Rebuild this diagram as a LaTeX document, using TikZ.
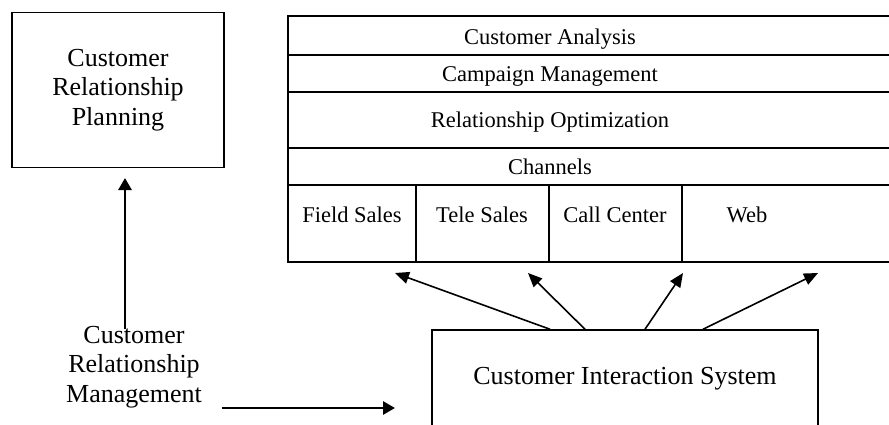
\documentclass[tikz,border=0pt]{standalone}
\usepackage{fontspec}
\setmainfont{Liberation Serif}
\usetikzlibrary{arrows.meta, calc}

\begin{document}
\begin{tikzpicture}[x=0.5pt,y=-0.5pt,
	big/.style={font=\fontsize{13}{14.75}\selectfont, align=center},
	small/.style={font=\fontsize{11.25}{13}\selectfont, anchor=base},
	rule/.style={line width=1.2pt},
	arr/.style={-{Triangle[length=6pt,width=6.5pt]}, line width=1.4pt},
	thin arr/.style={-{Triangle[length=7pt,width=6pt]}, line width=0.8pt}]
				\useasboundingbox (0,0) rectangle (889,424);
				\clip (0,0) rectangle (889,424);

				\node[big, draw, line width=0.8pt, minimum width=106pt, minimum height=77.5pt] (plan) at (118,90) {Customer\\Relationship\\Planning};
				\node[big] (crm) at (134,367) {Customer\\Relationship\\Management};

				\draw[rule] (288,16) rectangle (900,262);
				\foreach \y in {55,92,148,185}
				\draw[rule] (288,\y) -- (900,\y);
				\foreach \x in {416,549,682}
				\draw[rule] (\x,185) -- (\x,262);

				\node[small] (ana) at (550,44) {Customer Analysis};
				\node[small] (camp) at (550,81) {Campaign Management};
				\node[small] (opt) at (550,127) {Relationship Optimization};
				\node[small] (chan) at (550,174) {Channels};
				\foreach \x/\n/\t in {352/field/Field Sales, 482/tele/Tele Sales, 615/call/Call Center, 747/web/Web}
				\node[small] (\n) at (\x,222) {\t};

				\node[big, draw, line width=0.75pt, minimum width=193pt, minimum height=49pt] (cis) at (625,379) {Customer Interaction System};

				\coordinate (up) at (125,178);
				\draw[arr] ($(crm.north -| up)+(0,10)$) -- (up);
				\coordinate (cisin) at (395,408);
				\draw[arr] ($(crm.east |- cisin)+(13,0)$) -- (cisin);

				\foreach \s/\t [count=\i] in {-75/395, -40/528, 20/683, 78/818} {
				\coordinate (tip\i) at (\t,273);
				\draw[thin arr] ($(cis.north)+(\s,0)$) -- (tip\i);
				}
			\end{tikzpicture}
\end{document}
